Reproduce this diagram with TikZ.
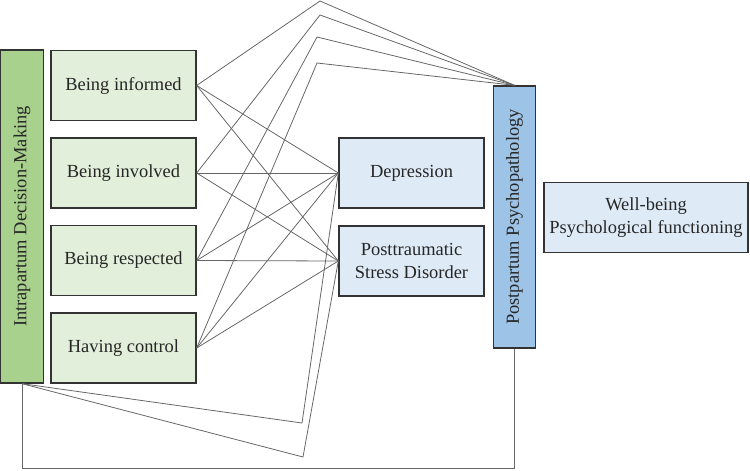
\documentclass[tikz,border=0pt]{standalone}
\usepackage{fontspec}
\setmainfont{Liberation Serif}[Ligatures=TeX]
\definecolor{barGreen}{HTML}{A9D18E}
\definecolor{boxGreen}{HTML}{E2EFDA}
\definecolor{barBlue}{HTML}{9DC3E6}
\definecolor{boxBlue}{HTML}{DEEBF7}
\tikzset{
  box/.style={draw=black!80, line width=0.8pt, inner sep=0pt, align=center,
    text=black!85, minimum width=2.9cm, minimum height=1.4cm},
  bar/.style={box, rotate=90, minimum height=0.85cm},
  link/.style={draw=black!60, line width=0.45pt}
}
\begin{document}
\begin{tikzpicture}[x=0.02cm, y=-0.02cm, font=\rmfamily\fontsize{10.5}{13.5}\selectfont]
\useasboundingbox (0,0) rectangle (750,470);
% predictors
\node[bar, fill=barGreen, minimum width=6.66cm] (ipdm) at (22,216.5) {Intrapartum Decision-Making};
\node[box, fill=boxGreen] (inf) at (123.5,85.5) {Being informed};
\node[box, fill=boxGreen] (inv) at (123.5,173) {Being involved};
\node[box, fill=boxGreen] (res) at (123.5,260.5) {Being respected};
\node[box, fill=boxGreen] (ctl) at (123.5,348) {Having control};
% outcomes
\node[box, fill=boxBlue] (dep) at (411.5,173) {Depression};
\node[box, fill=boxBlue] (ptsd) at (411.5,261) {Posttraumatic\\Stress Disorder};
\node[bar, fill=barBlue, minimum width=5.24cm] (pp) at (514.5,217) {Postpartum Psychopathology};
\node[box, fill=boxBlue, minimum width=4.08cm] (wb) at (646,217.5) {Well-being\\Psychological functioning};
% bend points
\coordinate (tInf) at (320,1);
\coordinate (tInv) at (320,15);
\coordinate (tRes) at (317,37);
\coordinate (tCtl) at (317,63);
\coordinate (bDep) at (302,423);
\coordinate (bPtsd) at (303,457);
\coordinate (lowL) at (ipdm.west |- 0,468);
\coordinate (lowR) at (pp.west |- 0,468);
% links
\draw[link] (inf.east) -- (dep.west);
\draw[link] (inf.east) -- (ptsd.west);
\draw[link] (inv.east) -- (dep.west);
\draw[link] (inv.east) -- (ptsd.west);
\draw[link] (res.east) -- (dep.west);
\draw[link] (res.east) -- (ptsd.west);
\draw[link] (ctl.east) -- (dep.west);
\draw[link] (ctl.east) -- (ptsd.west);
\draw[link] (inf.east) -- (tInf) -- (pp.east);
\draw[link] (inv.east) -- (tInv) -- (pp.east);
\draw[link] (res.east) -- (tRes) -- (pp.east);
\draw[link] (ctl.east) -- (tCtl) -- (pp.east);
\draw[link] (ipdm.west) -- (bDep) -- (dep.west);
\draw[link] (ipdm.west) -- (bPtsd) -- (ptsd.west);
\draw[link] (ipdm.west) -- (lowL) -- (lowR) -- (pp.west);
\end{tikzpicture}
\end{document}
